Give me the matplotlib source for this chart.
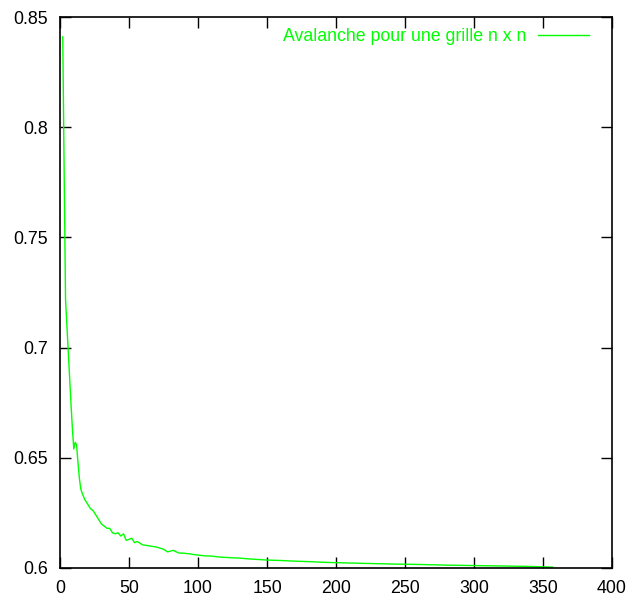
import matplotlib
matplotlib.use("Agg")
import matplotlib.pyplot as plt

# grid size n and avalanche value
n_vals = [2, 3, 4, 5, 6, 7, 8, 9, 10, 11, 12, 13, 14, 15, 16, 18, 20, 22, 24, 26,
          28, 30, 32, 34, 36, 38, 40, 42, 44, 46, 48, 50, 52, 54, 56, 58, 60, 65,
          70, 75, 78, 82, 86, 90, 94, 98, 105, 110, 115, 120, 125, 130, 135, 140,
          150, 160, 170, 180, 190, 200, 220, 240, 260, 280, 300, 320, 340, 357]
avalanche = [0.841, 0.780, 0.722, 0.710, 0.698, 0.686, 0.674, 0.663, 0.654, 0.657,
             0.656, 0.648, 0.641, 0.636, 0.634, 0.631, 0.629, 0.627, 0.626, 0.624,
             0.622, 0.620, 0.619, 0.618, 0.618, 0.616, 0.6155, 0.616, 0.6145, 0.6155,
             0.6125, 0.613, 0.6135, 0.6115, 0.612, 0.6112, 0.6105, 0.610, 0.6095,
             0.6085, 0.6073, 0.608, 0.6068, 0.6067, 0.6064, 0.606, 0.6055, 0.6054,
             0.6050, 0.6048, 0.6046, 0.6045, 0.6042, 0.604, 0.6036, 0.6034, 0.6031,
             0.6029, 0.6026, 0.6024, 0.6021, 0.6018, 0.6016, 0.6013, 0.6011, 0.6009,
             0.6007, 0.6004]
label = "Avalanche pour une grille n x n"

xticks = [0, 50, 100, 150, 200, 250, 300, 350, 400]
yticks = [0.6, 0.65, 0.7, 0.75, 0.8, 0.85]

plt.rcParams['font.family'] = ['Liberation Sans', 'DejaVu Sans']

fig = plt.figure(figsize=(6.27, 5.97), dpi=100)
ax = fig.add_axes([0.0957, 0.0486, 0.8804, 0.9229])

ax.plot(n_vals, avalanche, color='#00ff00', lw=1.0, label=label)

ax.set_xlim(0, 400)
ax.set_ylim(0.6, 0.85)
ax.set_xticks(xticks)
ax.set_xticklabels([str(t) for t in xticks])
ax.set_yticks(yticks)
ax.set_yticklabels(['0.6', '0.65', '0.7', '0.75', '0.8', '0.85'])
ax.tick_params(direction='in', length=8, width=1, top=True, right=True,
               labelsize=12.8)
ax.tick_params(axis='y', pad=8.5)
ax.tick_params(axis='x', pad=9)
for s in ax.spines.values():
    s.set_linewidth(1.2)

leg = ax.legend(loc='center right', frameon=False, fontsize=12.8, markerfirst=False,
                handlelength=2.87, borderpad=0, borderaxespad=0, handletextpad=0.62,
                bbox_to_anchor=(0.958, 0.965))
for t in leg.get_texts():
    t.set_color('#00ff00')

fig.savefig('out.png', dpi=100)
